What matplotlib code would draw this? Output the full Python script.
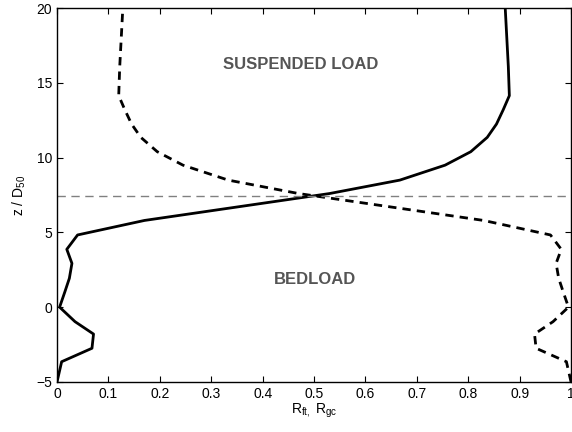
import numpy as np
import matplotlib
matplotlib.use('Agg')
from matplotlib import pyplot as plt

plt.rcParams['font.family'] = ['Liberation Sans', 'DejaVu Sans']
plt.rcParams['mathtext.fontset'] = 'custom'
plt.rcParams['mathtext.rm'] = 'Liberation Sans'
plt.rcParams['mathtext.it'] = 'Liberation Sans'

# elevation above bed, normalised by grain size
z = [-5.0, -3.65, -2.75, -1.8, -0.97, 0.0, 1.0, 1.93, 2.93, 3.87, 4.83,
     5.8, 7.6, 8.5, 9.5, 10.4, 11.36, 12.25, 13.2, 14.15, 16.1, 20.0]
# fine fraction ratio (solid)
r_ft = [0.0, 0.009, 0.068, 0.071, 0.035, 0.005, 0.015, 0.024, 0.029, 0.019, 0.04,
        0.17, 0.53, 0.667, 0.755, 0.805, 0.837, 0.855, 0.868, 0.88, 0.878, 0.872]
# gravel fraction ratio (dashed)
r_gc = [1.0, 0.991, 0.932, 0.929, 0.965, 0.995, 0.985, 0.976, 0.971, 0.981, 0.96,
        0.83, 0.47, 0.333, 0.245, 0.195, 0.163, 0.145, 0.132, 0.12, 0.122, 0.128]
z_interface = 7.43

fig = plt.figure(figsize=(5.72, 4.32), dpi=100)
ax = fig.add_axes([0.0997, 0.116, 0.8986, 0.865])

ax.plot(r_ft, z, color='k', lw=2.0)
ax.plot(r_gc, z, color='k', lw=2.0, ls=(0, (3.0, 2.2)))
ax.axhline(z_interface, color='#808080', lw=1.0, ls=(0, (6, 4)))

ax.text(0.475, 16.26, 'SUSPENDED LOAD', color='#555555', fontsize=12,
        fontweight='bold', ha='center', va='center')
ax.text(0.501, 1.88, 'BEDLOAD', color='#555555', fontsize=12,
        fontweight='bold', ha='center', va='center')

ax.set_xlim(0, 1)
ax.set_ylim(-5, 20)
ax.set_xticks(np.arange(0, 1.01, 0.1))
ax.set_xticklabels(['0', '0.1', '0.2', '0.3', '0.4', '0.5', '0.6', '0.7', '0.8', '0.9', '1'])
ax.set_yticks([-5, 0, 5, 10, 15, 20])
ax.set_yticklabels(['\u22125', '0', '5', '10', '15', '20'])
ax.tick_params(direction='in', top=True, right=True, labelsize=10, length=4, width=0.8)
for s in ax.spines.values():
    s.set_linewidth(1.0)

ax.set_xlabel(r'$\mathregular{R_{ft,}\ R_{gc}}$', fontsize=10, labelpad=1)
ax.set_ylabel(r'$\mathregular{z\ /\ D_{50}}$', fontsize=10, labelpad=6)

fig.savefig('out.png', dpi=100)
